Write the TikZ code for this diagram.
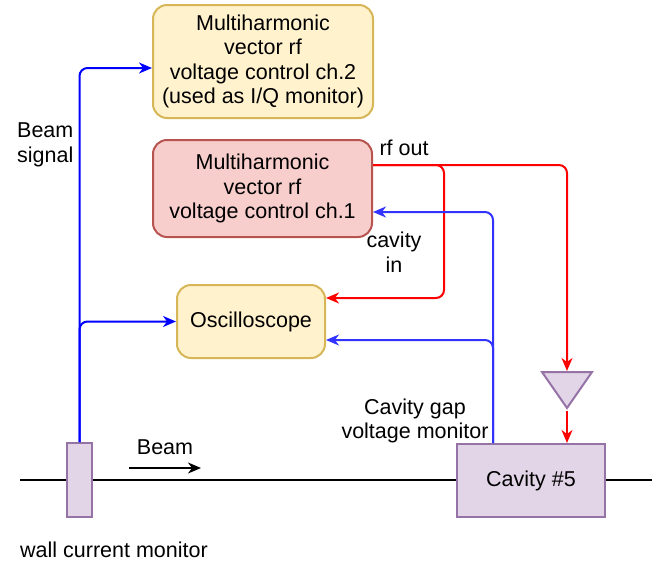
\documentclass[tikz,border=0pt]{standalone}
\usepackage{fontspec}
\setmainfont{Liberation Sans}
\usetikzlibrary{positioning,arrows.meta,shapes.geometric}
\definecolor{boxyellow}{RGB}{255,242,204}
\definecolor{lineyellow}{RGB}{214,182,86}
\definecolor{boxred}{RGB}{248,206,204}
\definecolor{linered}{RGB}{184,84,80}
\definecolor{boxviolet}{RGB}{225,213,231}
\definecolor{lineviolet}{RGB}{150,115,166}
\definecolor{sigred}{RGB}{255,0,0}
\definecolor{sigblue}{RGB}{0,0,255}
\definecolor{gapblue}{RGB}{51,51,255}
\newcommand{\diagfont}{\fontsize{21.5}{24.5}\selectfont}
\tikzset{
  ctrlbox/.style  = {rectangle, rounded corners=14pt, line width=2pt, inner sep=0pt,
                     align=center, font=\diagfont},
  yelbox/.style   = {ctrlbox, fill=boxyellow, draw=lineyellow},
  redbox/.style   = {ctrlbox, fill=boxred,    draw=linered},
  beambox/.style  = {rectangle, line width=2pt, inner sep=0pt, align=center,
                     font=\diagfont, fill=boxviolet, draw=lineviolet},
  ampnode/.style  = {isosceles triangle, isosceles triangle stretches,
                     shape border rotate=270, inner sep=0pt, line width=2pt,
                     fill=boxviolet, draw=lineviolet},
  sigline/.style  = {-{Stealth[length=13pt,width=11pt,inset=4pt]}, line width=2pt,
                     rounded corners=8pt},
  bluesig/.style  = {sigline, sigblue},
  gapsig/.style   = {sigline, gapblue},
  redsig/.style   = {sigline, sigred},
  txtlbl/.style   = {font=\diagfont, inner sep=0pt, align=center}
}

\begin{document}
\begin{tikzpicture}[x=1pt, y=-1pt]
  \useasboundingbox (0,0) rectangle (672,563);
  % ---- beam line ----
  \coordinate (bl) at (20,480);
  \coordinate (br) at (652,480);
  \draw[line width=2pt] (bl) -- (br);
  % ---- boxes ----
  \node[yelbox, minimum width=220pt, minimum height=113pt] (ch2) at (263,61.5)
       {Multiharmonic\\vector rf\\voltage control ch.2\\(used as I/Q monitor)};
  \node[redbox, minimum width=219pt, minimum height=97pt] (ch1) at (262.5,188.5)
       {Multiharmonic\\vector rf\\voltage control ch.1};
  \node[yelbox, minimum width=148pt, minimum height=73pt] (osc) at (251,321.5)
       {Oscilloscope};
  \node[beambox, minimum width=148pt, minimum height=73pt] (cav) at (531,480.5)
       {Cavity \#5};
  \node[beambox, minimum width=25pt, minimum height=74pt] (wcm) at (79.5,480) {};
  \node[ampnode, minimum width=50pt, minimum height=36pt, anchor=north] (amp)
       at (567,371) {};
  % ---- labels ----
  \node[txtlbl, anchor=west, align=left] (beamsig) at (17,145) {Beam\\signal};
  \node[txtlbl] (rfout)  at (404,148) {rf out};
  \node[txtlbl] (cavin)  at (394,252) {cavity\\in};
  \node[txtlbl] (gapmon) at (415,421) {Cavity gap\\voltage monitor};
  \node[txtlbl] (wcmlbl) at (114,550) {wall current monitor};
  \node[txtlbl] (beamlbl) at (165,447) {Beam};
  % ---- beam direction ----
  \coordinate (beamtail) at (129,468);
  \coordinate (beamhead) at (201,468);
  \draw[sigline] (beamtail) -- (beamhead);
  % ---- signals ----
  \coordinate (rfsplit) at (444,165);
  \draw[bluesig] (wcm.north) |- ([yshift=-6.5pt]ch2.west);
  \draw[bluesig] (wcm.north) |- (osc.west);
  \draw[redsig] ([yshift=23.5pt]ch1.east) -| (amp.north);
  \draw[redsig] ([yshift=23.5pt]ch1.east) -- (rfsplit) |- ([yshift=23.5pt]osc.east);
  \draw[redsig] (amp.south) -- (amp.south |- cav.north);
  \draw[gapsig] ([xshift=-38pt]cav.north) |- ([yshift=-23.5pt]ch1.east);
  \draw[gapsig] ([xshift=-38pt]cav.north) |- ([yshift=-18.5pt]osc.east);
\end{tikzpicture}
\end{document}
